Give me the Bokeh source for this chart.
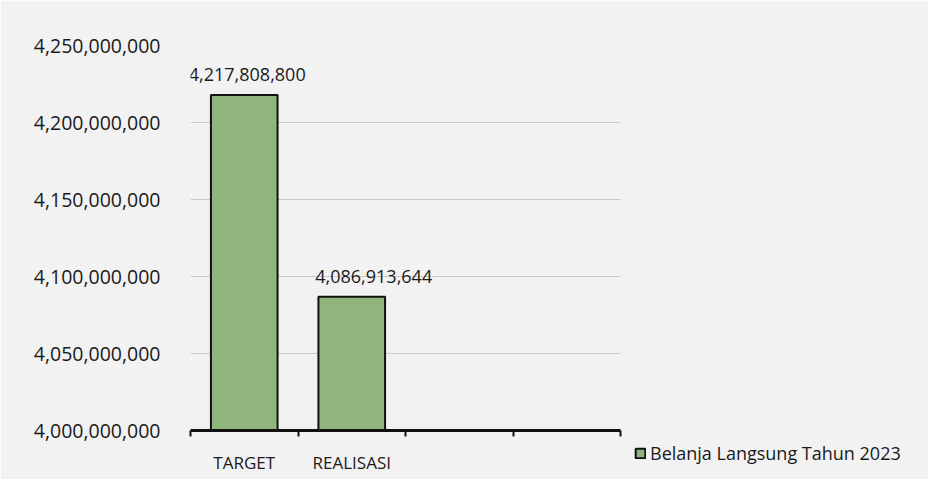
from bokeh.plotting import figure
from bokeh.models import ColumnDataSource, FixedTicker, NumeralTickFormatter, Legend, LegendItem, LabelSet
from bokeh.embed import file_html
from bokeh.resources import INLINE
from bokeh.core.properties import value

categories = ["TARGET", "REALISASI", "", ""]
values = [4217808800, 4086913644]
value_labels = ["4,217,808,800", "4,086,913,644"]
y_ticks = [4000000000, 4050000000, 4100000000, 4150000000, 4200000000, 4250000000]
series_name = "Belanja Langsung Tahun 2023"

FONT = "Open Sans"
BG = "#f3f2f3"
BAR_FILL = "#8fb47c"
BAR_LINE = "#111111"
TEXT = "#1a1a1a"
label_shift_px = [3, 22]  # style: horizontal nudge of the value labels

xs = [i + 0.5 for i in range(len(values))]
src = ColumnDataSource(dict(x=xs, top=values, lab=value_labels, dx=label_shift_px))

p = figure(frame_width=430, frame_height=385, output_backend="svg", toolbar_location=None,
           x_range=(0, len(categories)), y_range=(y_ticks[0], y_ticks[-1]),
           min_border_left=190, min_border_right=0, min_border_top=45, min_border_bottom=49)
p.background_fill_color = BG
p.border_fill_color = BG
p.outline_line_color = None

r = p.vbar(x="x", top="top", bottom=y_ticks[0], width=0.62, source=src,
           fill_color=BAR_FILL, line_color=BAR_LINE, line_width=2)

labels = LabelSet(x="x", y="top", text="lab", source=src, text_align="center",
                  text_baseline="bottom", x_offset="dx", y_offset=14, text_font=value(FONT),
                  text_font_size="18px", text_color=TEXT)
p.add_layout(labels)

# y axis
p.yaxis.ticker = FixedTicker(ticks=y_ticks)
p.yaxis.formatter = NumeralTickFormatter(format="0,0")
p.yaxis.axis_line_color = None
p.yaxis.major_tick_line_color = None
p.yaxis.minor_tick_line_color = None
p.yaxis.major_label_text_font = FONT
p.yaxis.major_label_text_font_size = "19.5px"
p.yaxis.major_label_text_color = TEXT
p.yaxis.major_label_standoff = 24

# x axis
centers = [i + 0.5 for i in range(len(categories))]
p.xaxis.ticker = FixedTicker(ticks=centers, minor_ticks=list(range(len(categories) + 1)))
p.xaxis.major_label_overrides = {c: lab for c, lab in zip(centers, categories)}
p.xaxis.major_tick_line_color = None
p.xaxis.minor_tick_line_color = "#111111"
p.xaxis.minor_tick_line_width = 2
p.xaxis.minor_tick_out = 6
p.xaxis.minor_tick_in = 0
p.xaxis.axis_line_color = "#111111"
p.xaxis.axis_line_width = 3
p.xaxis.major_label_text_font = FONT
p.xaxis.major_label_text_font_size = "17px"
p.xaxis.major_label_text_color = TEXT
p.xaxis.major_label_standoff = 14

p.xgrid.grid_line_color = None
p.ygrid.ticker = FixedTicker(ticks=y_ticks)
p.ygrid.grid_line_color = "#c9c9c9"
p.ygrid.grid_line_width = 1

legend = Legend(items=[LegendItem(label=series_name, renderers=[r])],
                location=(14, -35), orientation="horizontal",
                background_fill_alpha=0, border_line_color=None,
                label_text_font=FONT, label_text_font_size="18px",
                label_text_color=TEXT, glyph_width=12, glyph_height=12,
                label_standoff=4, padding=2, margin=0)
p.add_layout(legend, "right")

open("out.html", "w").write(file_html(p, INLINE))
